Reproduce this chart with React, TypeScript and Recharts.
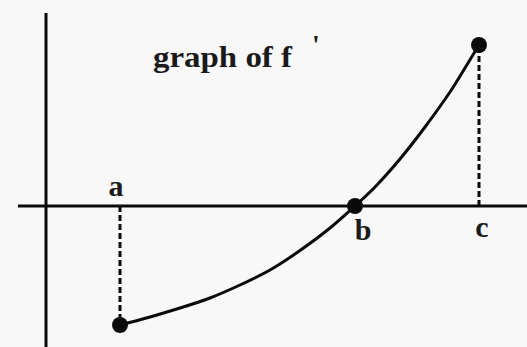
import React from 'react';
import { ComposedChart, Line, Scatter, XAxis, YAxis, ZAxis, ReferenceLine, ReferenceDot, Label } from 'recharts';

// curve of f' (x, y)
const curveX = [7.4, 10.4, 13.4, 16.4, 19.4, 22.4, 25.4, 28.4, 30.9, 32.9, 35.4, 37.9, 40.4, 41.9, 43.3];
const curveY = [-11.9, -11.1, -10.2, -9.2, -7.9, -6.4, -4.45, -2.2, 0, 1.9, 4.7, 7.9, 11.4, 13.8, 16.1];
// marked points a, b, c
const pointNames = ['a', 'b', 'c'];
const pointX = [7.4, 30.9, 43.3];
const pointY = [-11.9, 0, 16.1];
const title = 'graph of f';
const prime = "'";

const curve = curveX.map((x, i) => ({ x, y: curveY[i] }));
const points = pointX.map((x, i) => ({ x, y: pointY[i], name: pointNames[i] }));

const X_DOMAIN: [number, number] = [-4.6, 48.1];
const Y_DOMAIN: [number, number] = [-14.1, 20.6];

const FONT = '"Liberation Serif", "Times New Roman", serif';
const INK = '#0a0a0a';

const makeLetter = (text: string, dx: number, dy: number) => (props: any) => {
  const vb = props.viewBox || {};
  return (
    <text x={vb.x + dx} y={vb.y + dy} textAnchor="middle" fontFamily={FONT} fontWeight={700} fontSize={30} fill="#1a1a1a">
      {text}
    </text>
  );
};

const TitleContent = (props: any) => {
  const vb = props.viewBox || {};
  return (
    <g>
      <text x={vb.x} y={vb.y} fontFamily={FONT} fontWeight={700} fontSize={30} fill="#1a1a1a" textLength={139} lengthAdjust="spacingAndGlyphs">
        {title}
      </text>
      <text x={vb.x + 159} y={vb.y - 13} fontFamily={FONT} fontWeight={700} fontSize={28} fill="#1a1a1a">
        {prime}
      </text>
    </g>
  );
};

export default function App() {
  return (
    <div style={{ position: 'absolute', left: 0, top: 0, width: 527, height: 347, background: '#f8f8f8' }}>
      <ComposedChart width={527} height={347} margin={{ top: 0, right: 0, bottom: 0, left: 0 }}>
        <XAxis type="number" dataKey="x" domain={X_DOMAIN} hide allowDataOverflow />
        <YAxis type="number" dataKey="y" domain={Y_DOMAIN} hide allowDataOverflow />
        <ZAxis type="number" range={[200, 200]} />
        <ReferenceLine segment={[{ x: 0, y: 19.3 }, { x: 0, y: Y_DOMAIN[0] }]} stroke={INK} strokeWidth={3} ifOverflow="visible" />
        <ReferenceLine segment={[{ x: -2.8, y: 0 }, { x: X_DOMAIN[1], y: 0 }]} stroke={INK} strokeWidth={3} ifOverflow="visible" />
        <ReferenceLine segment={[{ x: pointX[0], y: 0 }, { x: pointX[0], y: pointY[0] }]} stroke={INK} strokeWidth={3} strokeDasharray="6 3" />
        <ReferenceLine segment={[{ x: pointX[2], y: 0 }, { x: pointX[2], y: pointY[2] }]} stroke={INK} strokeWidth={3} strokeDasharray="6 3" />
        <Line data={curve} dataKey="y" type="natural" stroke={INK} strokeWidth={3} dot={false} activeDot={false} isAnimationActive={false} />
        <Scatter data={points} dataKey="y" fill={INK} stroke="none" shape="circle" isAnimationActive={false} />
        <ReferenceDot x={pointX[0]} y={0} r={0} stroke="none" fill="none" ifOverflow="visible">
          <Label content={makeLetter(pointNames[0], -4, -10)} />
        </ReferenceDot>
        <ReferenceDot x={pointX[1]} y={0} r={0} stroke="none" fill="none" ifOverflow="visible">
          <Label content={makeLetter(pointNames[1], 8, 34)} />
        </ReferenceDot>
        <ReferenceDot x={pointX[2]} y={0} r={0} stroke="none" fill="none" ifOverflow="visible">
          <Label content={makeLetter(pointNames[2], 3, 31)} />
        </ReferenceDot>
        <ReferenceDot x={10.7} y={13.9} r={0} stroke="none" fill="none" ifOverflow="visible">
          <Label content={TitleContent} />
        </ReferenceDot>
      </ComposedChart>
    </div>
  );
}
